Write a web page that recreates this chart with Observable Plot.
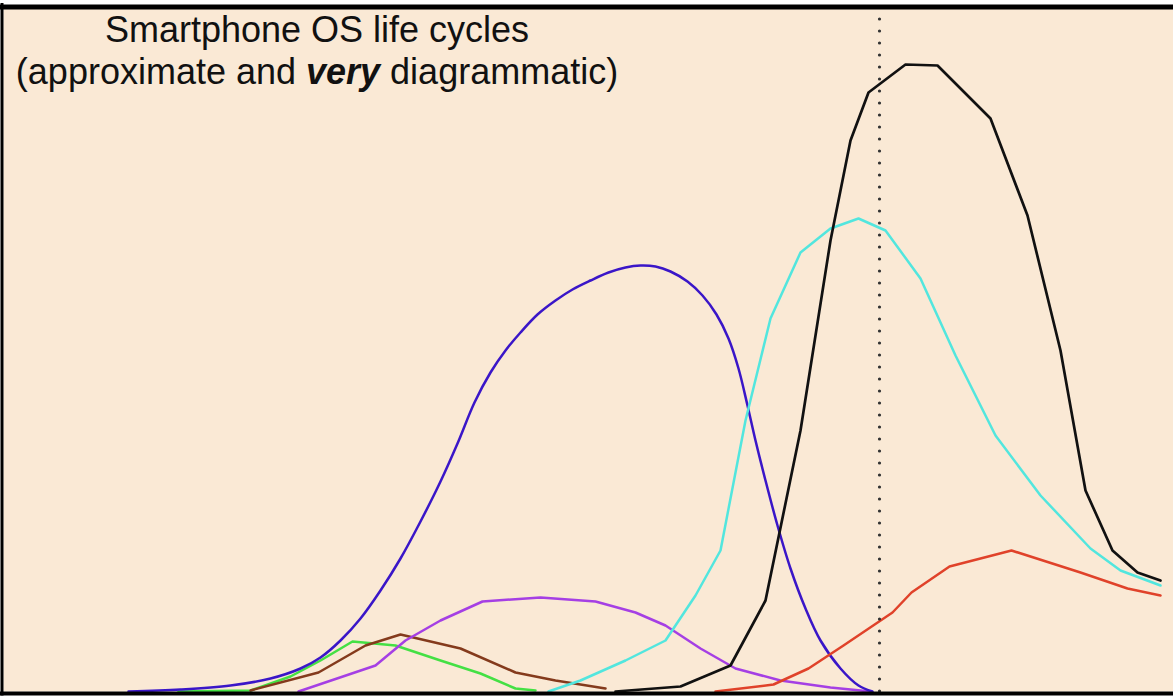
<!DOCTYPE html>
<html>
<head>
<meta charset="utf-8">
<script src="https://cdn.jsdelivr.net/npm/d3@7"></script>
<script src="https://cdn.jsdelivr.net/npm/@observablehq/plot@0.6"></script>
<style>
  html, body { margin: 0; padding: 0; background: #ffffff; }
  #wrap { position: relative; width: 1173px; height: 699px; }
  #title {
    position: absolute; left: 0; top: 8.5px; width: 634px;
    text-align: center; font-family: "Liberation Sans", Arial, sans-serif;
    font-size: 36px; line-height: 42px; color: #111;
  }
  #title b { font-style: italic; font-weight: bold; }
</style>
</head>
<body>
<div id="wrap">
  <div id="chart"></div>
  <div id="title">Smartphone OS life cycles<br>(approximate and <b>very</b> diagrammatic)</div>
</div>
<script>
// x = time (arbitrary units), y = market presence (arbitrary units)
const blue = [[12.5,0],[17.7,0.2],[22.7,0.6],[26.7,1.3],[29.7,2.3],[31.7,3.4],[33.7,5.1],[35.7,7.3],[37.7,10.1],[39.7,13.3],[41.7,17.0],[43.7,21.0],[45.4,24.8],[47.1,28.9],[48.7,31.9],[50.2,34.1],[51.7,35.9],[53.4,37.7],[55.2,39.1],[56.9,40.2],[58.7,41.1],[60.5,41.9],[62.2,42.4],[63.7,42.6],[65.2,42.5],[66.7,42.0],[68.4,41.0],[69.9,39.6],[71.3,37.7],[72.5,35.3],[73.5,32.3],[74.4,28.6],[75.2,25.1],[76.2,21.1],[77.4,16.6],[78.7,12.3],[80.2,8.3],[81.7,5.1],[83.7,2.3],[85.5,0.6],[86.9,0]];
const purple = [[29.5,0],[37.2,2.6],[40.2,5.1],[43.7,7.1],[47.9,9.0],[53.7,9.4],[59.2,9.0],[63.2,7.9],[66.2,6.6],[69.7,4.3],[73.2,2.3],[77.7,1.1],[82.7,0.4],[86.7,0]];
const green = [[17.5,0],[24.7,0.1],[28.7,1.5],[31.7,3.1],[34.9,5.0],[39.2,4.6],[43.7,3.1],[47.7,1.8],[51.2,0.3],[53.2,0.1]];
const brown = [[24.7,0.1],[31.5,1.9],[36.2,4.6],[39.7,5.7],[45.7,4.3],[51.2,1.9],[55.2,1.1],[60.2,0.3]];
const cyan = [[54.5,0],[57.7,1.1],[62.2,3.1],[66.2,5.1],[69.2,9.6],[71.7,14.1],[74.2,27.1],[76.7,37.3],[79.7,43.9],[82.7,46.3],[85.5,47.3],[88.2,46.1],[91.7,41.3],[95.2,33.6],[99.2,25.6],[103.7,19.6],[108.7,14.3],[111.7,12.1],[115.7,10.6]];
const black = [[61.2,0],[67.7,0.5],[72.7,2.6],[76.2,9.1],[79.7,26.1],[82.7,45.1],[84.7,55.1],[86.5,59.9],[90.2,62.7],[93.4,62.6],[98.7,57.3],[102.4,47.6],[105.7,34.1],[108.2,20.1],[110.9,14.1],[113.4,11.9],[115.7,11.1]];
const red = [[71.2,0],[77.0,0.7],[80.5,2.3],[84.0,4.6],[88.9,7.9],[90.8,9.9],[94.6,12.5],[100.8,14.1],[107.7,11.9],[112.4,10.3],[115.7,9.6]];
const nowMarker = [87.6];

const xDomain = [0, 117];
const yDomain = [0, 68.3];
const bg = "#fae9d5";

const px = d => d[0], py = d => d[1];
const line = (data, color, opts = {}) =>
  Plot.line(data, {x: px, y: py, stroke: color, strokeWidth: 2.5, strokeLinejoin: "round", ...opts});

const chart = Plot.plot({
  width: 1173,
  height: 699,
  marginLeft: 3,
  marginRight: 0,
  marginTop: 8,
  marginBottom: 8,
  x: {domain: xDomain, axis: null},
  y: {domain: yDomain, axis: null},
  style: {background: "#ffffff"},
  marks: [
    Plot.frame({fill: bg, stroke: null}),
    line(green, "#44e044"),
    line(brown, "#843a1c"),
    line(purple, "#a53fe4"),
    line(blue, "#3a16c8", {curve: "catmull-rom"}),
    line(cyan, "#52e6de"),
    line(red, "#e0422a"),
    line(black, "#111111", {strokeWidth: 2.7}),
    Plot.ruleX(nowMarker, {stroke: "#333", strokeWidth: 3.2, strokeDasharray: "0 12", strokeLinecap: "round", y1: 0, y2: 67.5}),
    Plot.ruleY([yDomain[1]], {x1: -0.3, x2: 117, stroke: "#000", strokeWidth: 5, dy: -1.5}),
    Plot.ruleY([0], {x1: -0.3, x2: 117, stroke: "#000", strokeWidth: 4, dy: 2}),
    Plot.ruleX([0], {y1: -0.45, y2: 68.8, stroke: "#000", strokeWidth: 3, dx: -1.5})
  ]
});
document.getElementById("chart").appendChild(chart);
</script>
</body>
</html>
